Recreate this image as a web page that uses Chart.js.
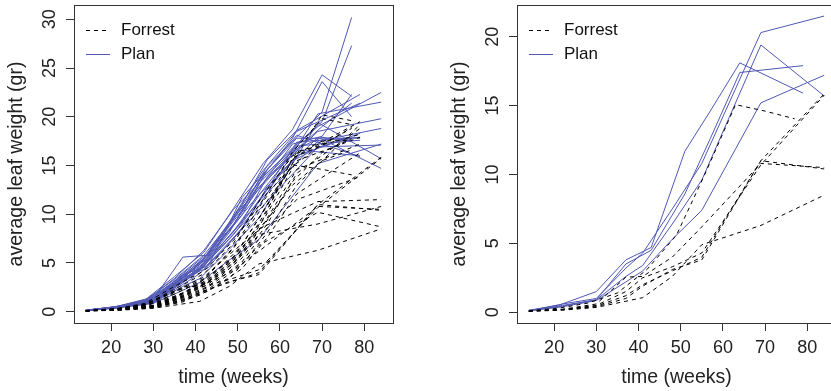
<!DOCTYPE html>
<html>
<head>
<meta charset="utf-8">
<script src="https://cdn.jsdelivr.net/npm/chart.js@4.4.1/dist/chart.umd.min.js"></script>
<style>
html, body { margin: 0; padding: 0; background: #fff; overflow: hidden; width: 831px; height: 391px; }
#leftBox { position: absolute; left: 0; top: 0; width: 415px; height: 391px; }
#rightBox { position: absolute; left: 415px; top: 0; width: 421px; height: 391px; }
</style>
</head>
<body>
<div id="leftBox"><canvas id="leftChart"></canvas></div>
<div id="rightBox"><canvas id="rightChart"></canvas></div>
<script>
// measurement weeks per year
const weeks88 = [14, 21, 28, 35, 42, 49, 56, 63, 70, 77];
const weeks89 = [14, 21, 30, 37, 43, 51, 57, 64, 79];
const weeks90 = [14, 22, 30, 37, 41, 48, 55, 69, 84];

// average leaf weight (gr), one row per plot
const forrest88 = [
    [0.106, 0.261, 0.666, 2.11, 3.56, 6.23, 8.71, 13.35, 16.34, 17.75],
    [0.104, 0.269, 0.778, 2.12, 2.93, 5.29, 9.5, 15.8, 17.06, 18.9],
    [0.108, 0.291, 0.667, 1.4, 3.1, 5.6, 10.2, 15.07, 14.6, 14.04],
    [0.12, 0.3, 0.85, 2.6, 4.2, 7.3, 11.5, 16.4, 19.8, 19.2],
    [0.1, 0.25, 0.6, 1.8, 3.3, 6.5, 10.8, 14.9, 17.2, 18.8],
    [0.11, 0.28, 0.72, 2.3, 3.9, 7.0, 12.0, 16.0, 17.5, 17.6],
    [0.09, 0.24, 0.55, 1.6, 2.8, 5.0, 8.9, 13.0, 15.5, 16.6],
    [0.1, 0.27, 0.7, 2.0, 3.4, 6.6, 11.3, 15.5, 20.2, 19.6]
];
const plan88 = [
    [0.15, 0.45, 1.1, 3.0, 5.5, 9.8, 14.5, 17.5, 20.5, 30.2],
    [0.14, 0.42, 1.0, 2.8, 5.2, 8.9, 13.8, 16.8, 19.5, 27.3],
    [0.16, 0.5, 1.2, 3.6, 6.1, 10.6, 15.2, 18.7, 24.3, 22.1],
    [0.15, 0.48, 1.15, 3.3, 5.8, 9.6, 14.0, 17.8, 23.6, 20.0],
    [0.13, 0.4, 0.95, 2.9, 5.0, 8.2, 12.5, 16.3, 19.0, 21.4],
    [0.14, 0.44, 1.05, 3.1, 5.4, 9.0, 13.2, 17.2, 18.0, 22.3],
    [0.12, 0.38, 0.9, 2.7, 4.7, 7.9, 12.0, 15.5, 17.0, 17.8],
    [0.15, 0.46, 1.1, 3.4, 6.3, 10.5, 13.6, 16.5, 17.9, 17.5]
];
const forrest89 = [
    [0.1, 0.22, 0.55, 1.5, 2.6, 5.5, 9.0, 14.2, 18.8],
    [0.09, 0.2, 0.5, 1.3, 2.3, 4.8, 8.1, 13.0, 19.2],
    [0.11, 0.24, 0.6, 1.7, 3.0, 6.0, 10.1, 15.5, 17.9],
    [0.1, 0.21, 0.52, 1.4, 2.5, 5.1, 8.6, 11.5, 13.85],
    [0.12, 0.25, 0.66, 1.9, 3.3, 6.8, 11.0, 16.4, 18.2],
    [0.1, 0.23, 0.58, 1.6, 2.8, 5.8, 9.6, 14.6, 17.2],
    [0.09, 0.2, 0.48, 1.2, 2.1, 4.4, 7.6, 12.1, 16.3],
    [0.11, 0.24, 0.62, 1.8, 3.1, 6.3, 10.5, 16.0, 19.5]
];
const plan89 = [
    [0.15, 0.5, 1.5, 3.8, 4.7, 11.7, 14.6, 18.1, 15.9],
    [0.14, 0.4, 0.9, 3.5, 4.5, 8.6, 12.6, 17.4, 17.9],
    [0.16, 0.5, 1.3, 5.6, 5.8, 10.7, 13.5, 17.0, 17.6],
    [0.15, 0.45, 1.2, 3.9, 6.0, 10.4, 15.0, 18.5, 21.4],
    [0.14, 0.42, 1.1, 3.2, 5.3, 9.2, 13.8, 16.6, 16.0],
    [0.16, 0.48, 1.25, 3.6, 5.6, 9.9, 14.6, 17.8, 17.8],
    [0.13, 0.4, 1.0, 3.0, 4.9, 8.5, 12.8, 16.0, 18.3],
    [0.15, 0.46, 1.2, 3.4, 5.9, 11.0, 15.6, 18.6, 22.3]
];
const forrest90 = [
    [0.08, 0.2, 0.45, 1.2, 2.0, 3.0, 4.0, 11.0, 15.85],
    [0.08, 0.18, 0.4, 1.0, 1.9, 3.1, 3.8, 11.0, 10.4],
    [0.07, 0.15, 0.35, 0.8, 1.06, 2.6, 4.9, 6.3, 8.5],
    [0.09, 0.2, 0.5, 1.5, 2.5, 3.3, 4.3, 10.7, 15.75],
    [0.08, 0.22, 0.6, 2.55, 2.6, 4.0, 6.2, 10.8, 10.5],
    [0.1, 0.24, 0.65, 1.9, 3.0, 5.2, 8.5, 11.3, 11.5],
    [0.09, 0.21, 0.55, 1.6, 2.6, 4.4, 7.9, 9.0, 10.8],
    [0.08, 0.18, 0.42, 1.1, 1.7, 3.4, 6.8, 10.2, 8.7]
];
const plan90 = [
    [0.1, 0.6, 1.0, 3.2, 4.3, 7.5, 10.8, 20.3, 21.5],
    [0.1, 0.5, 0.9, 2.6, 3.4, 6.4, 9.6, 19.4, 15.7],
    [0.1, 0.4, 0.85, 2.2, 3.0, 5.3, 7.4, 15.2, 17.2],
    [0.12, 0.55, 1.1, 3.6, 4.9, 9.0, 12.8, 18.5, 19.8],
    [0.11, 0.5, 1.0, 3.0, 4.2, 7.8, 11.3, 17.5, 18.8],
    [0.1, 0.45, 0.95, 2.8, 3.9, 7.0, 10.4, 16.9, 17.1],
    [0.12, 0.52, 1.05, 3.3, 4.5, 8.4, 12.0, 17.9, 14.7],
    [0.11, 0.48, 1.0, 3.1, 4.4, 8.1, 13.5, 19.0, 22.5]
];

// plots shown in the right panel
const rightPlots = ["88F3", "90F1", "90F2", "90F3", "90F4", "90F5", "89P1", "89P2", "90P1", "90P2", "90P3"];

const xTicks = [20, 30, 40, 50, 60, 70, 80];
const yTicksLeft = [0, 5, 10, 15, 20, 25, 30];
const yTicksRight = [0, 5, 10, 15, 20];

const fontFamily = "'Liberation Sans', Arial, Helvetica, sans-serif";
const planColor = "#5058b4";
const forrestColor = "#000000";
const axisColor = "#333333";

const plots = [];
function addPlots(year, variety, weeks, rows) {
    rows.forEach(function (row, i) {
        plots.push({
            id: year + variety + (i + 1),
            variety: variety,
            points: row.map(function (w, j) { return { x: weeks[j], y: w }; })
        });
    });
}
addPlots("88", "F", weeks88, forrest88);
addPlots("88", "P", weeks88, plan88);
addPlots("89", "F", weeks89, forrest89);
addPlots("89", "P", weeks89, plan89);
addPlots("90", "F", weeks90, forrest90);
addPlots("90", "P", weeks90, plan90);

function toDatasets(list) {
    return list.map(function (p) {
        const isPlan = p.variety === "P";
        return {
            label: p.id,
            data: p.points,
            borderColor: isPlan ? planColor : forrestColor,
            borderWidth: 1,
            borderDash: isPlan ? [] : [4, 4],
            pointRadius: 0,
            tension: 0,
            fill: false
        };
    });
}

// box, rotated y labels and in-plot legend, R style
const decorations = {
    id: "decorations",
    afterDraw: function (chart, args, opts) {
        const ctx = chart.ctx;
        const area = chart.chartArea;
        const yScale = chart.scales.y;
        ctx.save();
        ctx.strokeStyle = axisColor;
        ctx.lineWidth = 1;
        ctx.setLineDash([]);
        ctx.strokeRect(Math.round(area.left) + 0.5, Math.round(area.top) + 0.5,
            Math.round(area.right - area.left), Math.round(area.bottom - area.top));

        ctx.fillStyle = "#222";
        ctx.font = "18px " + fontFamily;
        ctx.textAlign = "center";
        ctx.textBaseline = "middle";
        yScale.ticks.forEach(function (t) {
            const py = yScale.getPixelForValue(t.value);
            ctx.save();
            ctx.translate(area.left - 24, py);
            ctx.rotate(-Math.PI / 2);
            ctx.fillText(String(t.value), 0, 0);
            ctx.restore();
        });

        const entries = [
            { text: "Forrest", color: forrestColor, dash: [4, 4] },
            { text: "Plan", color: planColor, dash: [] }
        ];
        ctx.font = "17px " + fontFamily;
        ctx.textAlign = "left";
        entries.forEach(function (e, i) {
            const ly = area.top + 25 + i * 24;
            ctx.strokeStyle = e.color;
            ctx.setLineDash(e.dash);
            ctx.beginPath();
            ctx.moveTo(area.left + 12, ly + 0.5);
            ctx.lineTo(area.left + 36, ly + 0.5);
            ctx.stroke();
            ctx.fillStyle = "#111";
            ctx.fillText(e.text, area.left + 47, ly);
        });
        ctx.restore();
    }
};

function buildOptions(yMin, yMax, yTicks, yWidth, titlePad, rightPad) {
    return {
        responsive: true,
        maintainAspectRatio: false,
        animation: false,
        layout: { padding: { top: 5, right: rightPad, bottom: 0, left: 0 } },
        plugins: { legend: { display: false }, tooltip: { enabled: false } },
        scales: {
            x: {
                type: "linear",
                min: 11.2,
                max: 86.8,
                afterFit: function (s) { s.height = 68; },
                afterBuildTicks: function (s) { s.ticks = xTicks.map(function (v) { return { value: v }; }); },
                grid: { drawOnChartArea: false, drawTicks: true, tickLength: 8, color: axisColor },
                border: { display: false },
                ticks: { font: { size: 18, family: fontFamily }, color: "#222", padding: 6, maxRotation: 0, autoSkip: false },
                title: { display: true, text: "time (weeks)", color: "#222", font: { size: 19.5, family: fontFamily }, padding: { top: 0, bottom: 2 } }
            },
            y: {
                type: "linear",
                min: yMin,
                max: yMax,
                afterFit: function (s) { s.width = yWidth; },
                afterBuildTicks: function (s) { s.ticks = yTicks.map(function (v) { return { value: v }; }); },
                grid: { drawOnChartArea: false, drawTicks: true, tickLength: 8, color: axisColor },
                border: { display: false },
                ticks: { display: false },
                title: { display: true, text: "average leaf weight (gr)", color: "#222", font: { size: 19.5, family: fontFamily }, padding: { top: titlePad, bottom: 0 } }
            }
        }
    };
}

new Chart(document.getElementById("leftChart").getContext("2d"), {
    type: "line",
    data: { datasets: toDatasets(plots) },
    options: buildOptions(-1.16, 31.47, yTicksLeft, 74, 5, 22),
    plugins: [decorations]
});

new Chart(document.getElementById("rightChart").getContext("2d"), {
    type: "line",
    data: { datasets: toDatasets(plots.filter(function (p) { return rightPlots.indexOf(p.id) >= 0; })) },
    options: buildOptions(-0.78, 22.3, yTicksRight, 102, 33, 0),
    plugins: [decorations]
});
</script>
</body>
</html>
